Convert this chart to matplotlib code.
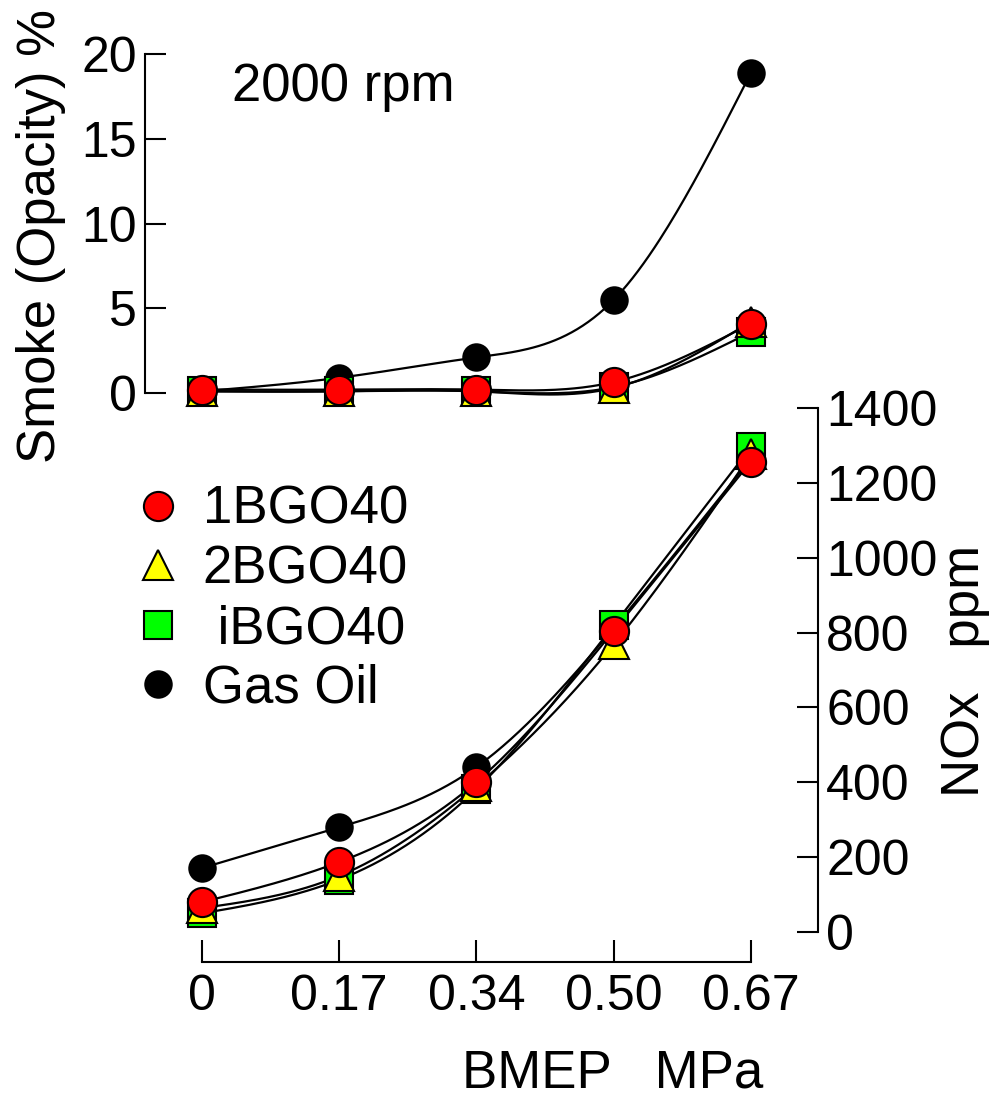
import numpy as np
import matplotlib
matplotlib.use('Agg')
import matplotlib.pyplot as plt

plt.rcParams['font.family'] = ['Liberation Sans', 'DejaVu Sans']

# BMEP load points (MPa), plotted at evenly spaced positions
bmep_labels = ['0', '0.17', '0.34', '0.50', '0.67']
xpos = np.arange(len(bmep_labels))

# Smoke opacity (%)
smoke_1bgo = [0.2, 0.2, 0.2, 0.65, 4.1]
smoke_2bgo = [0.1, 0.1, 0.1, 0.3, 4.2]
smoke_ibgo = [0.1, 0.1, 0.1, 0.35, 3.6]
smoke_gasoil = [0.1, 0.9, 2.1, 5.5, 18.9]

# NOx (ppm)
nox_1bgo = [80, 187, 401, 805, 1257]
nox_2bgo = [64, 150, 390, 769, 1276]
nox_ibgo = [50, 140, 382, 820, 1295]
nox_gasoil = [171, 280, 441, 812, 1265]


def smooth(x, y, n=200):
    # natural cubic spline through the points, just for drawing the curve
    x = np.asarray(x, float)
    y = np.asarray(y, float)
    k = len(x)
    h = np.diff(x)
    A = np.zeros((k, k))
    b = np.zeros(k)
    A[0, 0] = A[-1, -1] = 1
    for i in range(1, k - 1):
        A[i, i - 1] = h[i - 1]
        A[i, i] = 2 * (h[i - 1] + h[i])
        A[i, i + 1] = h[i]
        b[i] = 6 * ((y[i + 1] - y[i]) / h[i] - (y[i] - y[i - 1]) / h[i - 1])
    M = np.linalg.solve(A, b)
    xs = np.linspace(x[0], x[-1], n)
    idx = np.clip(np.searchsorted(x, xs) - 1, 0, k - 2)
    x0, x1 = x[idx], x[idx + 1]
    hh = x1 - x0
    t0, t1 = x1 - xs, xs - x0
    ys = (M[idx] * t0**3 + M[idx + 1] * t1**3) / (6 * hh) \
        + (y[idx] / hh - M[idx] * hh / 6) * t0 \
        + (y[idx + 1] / hh - M[idx + 1] * hh / 6) * t1
    return xs, ys


series = [
    ('Gas Oil', 'o', 'black', 19, 3),
    (' iBGO40', 's', '#00ff00', 20, 4),
    ('2BGO40', '^', '#ffff00', 21, 5),
    ('1BGO40', 'o', '#ff0000', 21, 6),
]
smoke = {'Gas Oil': smoke_gasoil, ' iBGO40': smoke_ibgo,
         '2BGO40': smoke_2bgo, '1BGO40': smoke_1bgo}
nox = {'Gas Oil': nox_gasoil, ' iBGO40': nox_ibgo,
       '2BGO40': nox_2bgo, '1BGO40': nox_1bgo}

TICK_FS = 36
TEXT_FS = 38

W, H = 998, 1104
fig = plt.figure(figsize=(W / 100, H / 100), dpi=100)

xl = (-57 / 137.25, 4 + 67 / 137.25)
ax1 = fig.add_axes([145 / W, 1 - 393 / H, 673 / W, 339 / H])
ax2 = fig.add_axes([145 / W, 1 - 962 / H, 673 / W, 554 / H])

handles = {}
for ax, data in ((ax1, smoke), (ax2, nox)):
    for name, m, c, ms, z in series:
        xs, ys = smooth(xpos, data[name])
        ax.plot(xs, ys, color='black', lw=1.6, zorder=2, clip_on=False)
        h, = ax.plot(xpos, data[name], ls='none', marker=m, ms=ms, mfc=c,
                     mec='black', mew=1.5, zorder=z, clip_on=False)
        handles[name] = h
    ax.set_xlim(*xl)

# top panel: smoke
ax1.set_ylim(0, 20)
ax1.set_yticks([0, 5, 10, 15, 20])
ax1.set_xticks([])
for s in ('top', 'right', 'bottom'):
    ax1.spines[s].set_visible(False)
ax1.spines['left'].set_linewidth(1.5)
ax1.tick_params(axis='y', direction='in', length=15, width=1.5,
                labelsize=TICK_FS, pad=6)
ax1.patch.set_alpha(0)

# bottom panel: NOx
ax2.set_ylim(-80, 1400)
ax2.set_yticks(range(0, 1401, 200))
ax2.set_xticks(xpos)
ax2.set_xticklabels(bmep_labels)
ax2.yaxis.tick_right()
for s in ('top', 'left'):
    ax2.spines[s].set_visible(False)
ax2.spines['right'].set_bounds(0, 1400)
ax2.spines['bottom'].set_bounds(0, 4)
ax2.spines['right'].set_linewidth(1.5)
ax2.spines['bottom'].set_linewidth(1.5)
ax2.tick_params(axis='y', direction='in', length=15, width=1.5,
                labelsize=TICK_FS, pad=6)
ax2.tick_params(axis='x', direction='in', length=16, width=1.5,
                labelsize=TICK_FS, pad=9)
ax2.patch.set_alpha(0)

fig.text(41 / W, 1 - 463 / H, 'Smoke (Opacity) %', rotation=90,
         fontsize=TEXT_FS, ha='center', va='bottom')
fig.text(965 / W, 1 - 671 / H, 'NOx   ppm', rotation=90,
         fontsize=TEXT_FS, ha='center', va='center')
fig.text(462 / W, 1 - 1073 / H, 'BMEP   MPa', fontsize=TEXT_FS,
         ha='left', va='center')
fig.text(232 / W, 1 - 87 / H, '2000 rpm', fontsize=TEXT_FS,
         ha='left', va='center')

order = ['1BGO40', '2BGO40', ' iBGO40', 'Gas Oil']
ax2.legend([handles[k] for k in order], order, loc='upper left',
           bbox_to_anchor=(134 / W, 1 - 485 / H), bbox_transform=fig.transFigure,
           frameon=False, fontsize=TEXT_FS, handlelength=0.9, handletextpad=0.4,
           labelspacing=0.18, borderpad=0, borderaxespad=0)

fig.savefig('out.png', dpi=100)
